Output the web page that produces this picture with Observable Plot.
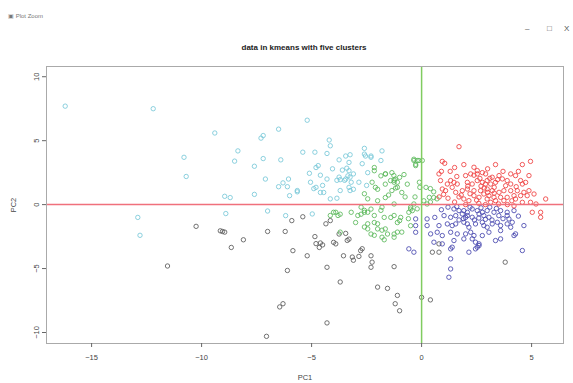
<!DOCTYPE html>
<html><head><meta charset="utf-8">
<script src="https://cdn.jsdelivr.net/npm/d3@7"></script>
<script src="https://cdn.jsdelivr.net/npm/@observablehq/plot@0.6"></script>
<style>
body{margin:0;background:#fff;font-family:"Liberation Sans",Arial,sans-serif;}
#top{position:relative;height:58px;width:573px;}
#win{position:absolute;left:8px;top:12px;font-size:6px;color:#777;}
.ctl{position:absolute;top:24px;font-size:8px;color:#555;}
#title{position:absolute;left:0;width:608px;text-align:center;top:43px;font-size:8px;font-weight:bold;color:#222;}
</style></head><body>
<div id="top">
  <div id="win">▣ Plot Zoom</div>
  <span class="ctl" style="left:525px">–</span>
  <span class="ctl" style="left:547px">□</span>
  <span class="ctl" style="left:564px">X</span>
  <div id="title">data in kmeans with five clusters</div>
</div>
<div id="chart"></div>
<script>
const xTicks = [-15, -10, -5, 0, 5];
const yTicks = [-10, -5, 0, 5, 10];
const xLabel = "PC1";
const yLabel = "PC2";

// cluster 5 (cyan)
const cyanPts = [[-16.2,7.7],[-12.2,7.5],[-9.4,5.6],[-10.8,3.7],[-10.7,2.2],[-12.9,-1.0],[-12.8,-2.4],[-7.3,5.2],[-7.2,5.4],[-6.5,5.9],[-8.35,4.2],[-8.5,3.4],[-7.6,3.0],[-7.2,3.6],[-6.4,3.5],[-7.1,2.0],[-6.5,1.4],[-6.3,1.7],[-6.1,1.4],[-6.05,2.0],[-6.0,0.7],[-5.65,1.0],[-8.95,0.65],[-8.7,0.55],[-7.6,0.8],[-8.9,-0.7],[-7.0,-0.5],[-4.2,5.05],[-4.15,4.6],[-5.4,4.1],[-4.85,4.1],[-4.3,4.0],[-3.45,3.8],[-3.25,3.9],[-2.6,3.95],[-2.55,3.8],[-3.75,3.5],[-3.3,3.3],[-4.8,2.9],[-4.7,3.05],[-4.05,2.8],[-3.6,2.7],[-3.4,2.85],[-2.45,2.5],[-5.1,2.45],[-4.6,2.3],[-4.3,2.0],[-3.85,1.9],[-3.7,1.95],[-3.5,1.9],[-3.35,2.25],[-3.25,2.15],[-5.05,1.75],[-4.9,1.25],[-4.8,1.35],[-4.5,1.5],[-4.45,0.95],[-4.6,0.95],[-3.7,1.1],[-3.3,1.35],[-3.25,1.1],[-3.1,1.2],[-2.85,1.75],[-2.5,1.5],[-5.65,1.1],[-4.15,0.45],[-3.85,0.5],[-2.6,4.4],[-1.8,4.2],[-2.3,3.7],[-1.85,3.45],[-5.2,6.6],[-4.97,-0.73],[-6.18,-0.86],[-3.3,2.65],[-3.2,1.75],[-3.45,2.0],[-3.1,2.4],[-3.75,2.15],[-2.3,3.8],[-2.7,3.2]];

// cluster 3 (green)
const greenPts = [[-2.25,1.75],[-2.15,2.65],[-2.6,0.85],[-1.85,2.25],[-1.65,2.4],[-1.2,2.0],[-1.25,1.75],[-1.1,1.75],[-0.8,2.35],[-0.65,1.6],[-1.35,1.1],[-0.35,3.45],[-0.2,3.45],[-0.27,3.05],[-0.1,1.75],[-0.08,1.35],[-2.1,1.35],[-2.0,1.2],[-0.5,-0.35],[-0.42,-0.47],[-0.58,-0.6],[0.1,0.3],[0.25,0.05],[0.4,0.2],[0.55,0.55],[0.7,0.45],[-2.6,-0.45],[-2.75,-0.75],[-2.45,-0.6],[-3.2,-0.6],[-1.85,-0.45],[-1.4,-1.0],[-2.15,-1.4],[-2.0,-1.5],[-1.1,-1.4],[-0.95,-1.0],[-1.8,-2.0],[-1.65,-1.9],[-2.6,-1.75],[-2.45,-1.9],[-3.0,-1.4],[-2.15,-2.4],[-1.7,-2.75],[-1.25,-2.3],[-0.9,-2.15],[-0.5,-1.65],[-3.7,-2.15],[-3.8,-0.85],[-0.35,3.55],[-0.27,3.15],[-0.12,3.45],[0.03,3.45],[-1.26,2.27],[-1.41,1.88],[-1.18,1.3],[-1.64,2.4],[-1.0,2.13],[0.2,1.35],[0.4,1.25],[0.55,1.0],[0.35,0.57],[-0.35,0.05],[-0.5,-0.2],[-0.2,-0.33],[-2.15,2.9],[-1.35,2.5],[-1.25,1.9],[-1.65,1.6],[-1.1,1.35],[-2.45,0.45],[-2.0,0.3],[-1.65,0.55],[-2.75,-0.2],[-2.3,-0.35],[-1.8,-0.2],[-1.25,0.05],[-4.0,-0.6],[-3.7,-0.75],[-2.9,-0.85],[-4.15,-0.85],[-3.9,-0.6],[-2.6,-0.6],[-2.15,-0.85],[-1.7,-1.0],[-1.25,-0.85],[-1.0,-1.25],[-2.45,-1.5],[-2.0,-1.9],[-1.55,-2.3],[-1.1,-2.15],[-2.3,-2.3],[-1.8,-2.55],[-1.25,-2.55],[-0.75,0.6],[-0.9,0.95],[-0.3,0.6],[-1.5,0.75],[-0.6,-1.1]];

// cluster 1 (black)
const blackPts = [[-11.55,-4.8],[-10.25,-1.7],[-9.15,-2.05],[-9.05,-2.1],[-8.95,-2.15],[-8.65,-3.35],[-8.1,-2.75],[-7.0,-2.1],[-6.2,-2.1],[-5.9,-1.25],[-5.4,-0.95],[-5.85,-3.6],[-6.1,-5.15],[-5.2,-4.0],[-4.85,-2.5],[-4.8,-3.05],[-4.65,-3.35],[-4.5,-3.15],[-4.6,-3.0],[-4.35,-1.5],[-4.15,-1.25],[-4.3,-4.9],[-4.0,-2.95],[-6.45,-8.0],[-6.3,-7.75],[-4.3,-9.25],[-7.05,-10.3],[-3.7,-6.05],[-3.75,-2.3],[-3.45,-2.25],[-3.3,-2.7],[-3.55,-4.0],[-3.15,-4.1],[-2.85,-4.05],[-3.1,-4.35],[-2.7,-3.45],[-2.3,-4.0],[-2.25,-4.5],[-2.3,-4.9],[-2.0,-6.45],[-1.55,-6.55],[-1.25,-4.85],[-1.1,-7.1],[-1.2,-7.75],[-1.0,-8.3],[0.0,-7.25],[0.4,-7.45],[3.8,-4.5],[-3.9,-3.07],[-3.38,-2.8],[-2.77,-3.6],[0.49,-3.72],[0.79,-3.72],[0.79,-3.07]];

// cluster 4 (blue)
const bluePts = [[1.47,-0.34],[1.7,-0.47],[1.92,-0.47],[2.08,-0.6],[2.3,-0.34],[2.53,-0.47],[2.76,-0.6],[2.98,-0.47],[3.29,-0.6],[3.59,-0.47],[3.89,-0.6],[4.2,-0.47],[1.02,-0.86],[1.32,-0.99],[1.55,-0.86],[1.85,-0.73],[2.08,-0.86],[2.3,-0.99],[2.61,-0.73],[2.83,-0.86],[3.06,-0.99],[3.51,-0.86],[3.89,-0.86],[3.97,-1.12],[0.79,-1.64],[1.17,-1.51],[1.39,-1.64],[1.55,-1.51],[1.92,-1.38],[2.08,-1.51],[2.15,-1.77],[2.45,-1.51],[2.76,-1.38],[2.83,-1.64],[3.21,-1.51],[3.44,-1.38],[3.59,-1.64],[3.89,-1.51],[4.12,-1.38],[0.41,-2.29],[0.71,-2.16],[0.94,-2.42],[1.32,-2.16],[1.62,-2.29],[2.0,-2.29],[2.23,-2.16],[2.38,-2.42],[2.98,-1.77],[3.06,-2.16],[3.59,-2.03],[4.05,-1.77],[4.65,-1.64],[0.56,-2.94],[0.94,-3.07],[1.47,-2.81],[1.92,-2.68],[2.3,-2.68],[2.45,-2.94],[2.61,-3.2],[2.76,-2.42],[3.36,-2.81],[3.59,-2.68],[4.2,-2.42],[4.27,-2.29],[1.32,-3.46],[1.39,-3.33],[2.15,-3.72],[2.45,-3.46],[2.53,-3.33],[2.61,-3.07],[1.32,-4.24],[1.32,-5.03],[1.24,-5.68],[4.58,-3.59],[-0.27,-1.12],[-0.27,-1.64],[-0.27,-2.16],[0.25,-1.12],[0.25,-1.64],[-0.35,-3.72],[-0.58,-3.46],[1.2,-0.2],[1.6,-0.15],[2.2,-0.2],[2.7,-0.25],[3.1,-0.2],[3.4,-0.3],[1.9,-1.1],[2.4,-1.2],[2.6,-1.05],[3.2,-1.2],[1.7,-1.2],[2.0,-1.0],[2.9,-1.15],[0.9,-0.4],[0.6,-1.0],[3.7,-1.1],[4.4,-0.9]];

// cluster 2 (red)
const redPts = [[1.7,4.53],[0.94,3.38],[1.05,3.23],[1.92,3.13],[3.36,3.13],[4.58,3.13],[4.95,3.38],[2.38,2.92],[2.53,2.66],[4.05,2.4],[4.27,2.27],[4.88,2.27],[0.79,2.4],[0.86,1.88],[2.0,2.27],[2.23,2.4],[2.38,2.3],[2.53,2.4],[2.76,2.5],[2.91,2.4],[3.21,2.14],[3.52,2.27],[3.67,2.01],[4.5,1.88],[4.73,1.74],[4.58,1.61],[1.32,1.88],[1.47,1.74],[1.62,1.61],[1.17,1.61],[2.08,1.74],[2.3,1.61],[2.53,1.88],[2.76,1.74],[2.98,1.88],[3.14,1.61],[3.36,1.74],[3.89,1.88],[4.05,1.61],[3.82,1.48],[0.94,1.22],[1.09,1.09],[1.39,1.35],[1.55,0.96],[1.85,1.09],[2.08,1.22],[2.38,1.09],[2.68,1.09],[2.98,1.22],[3.21,1.09],[3.52,0.96],[3.74,1.09],[4.05,1.09],[4.35,1.09],[4.65,0.96],[4.88,1.09],[5.11,0.83],[2.38,0.7],[2.61,0.57],[2.83,0.83],[3.06,0.7],[3.29,0.57],[3.59,0.57],[3.89,0.57],[4.2,0.7],[4.5,0.7],[4.8,0.7],[1.92,0.44],[2.15,0.31],[2.98,0.44],[3.14,0.18],[3.36,0.31],[3.74,0.31],[4.27,0.44],[4.58,0.18],[5.64,0.44],[4.95,0.18],[1.2,0.5],[1.0,0.8],[0.8,0.6],[1.5,0.2],[1.7,0.6],[2.0,0.0],[2.6,0.1],[2.9,0.0],[3.5,0.05],[3.9,0.0],[4.2,-0.1],[5.03,-0.6],[5.41,-0.6],[5.41,-0.99],[5.2,0.05],[1.3,2.6],[1.6,2.2],[3.0,2.8],[4.4,2.6],[3.7,2.6],[0.9,2.6],[1.5,2.9],[2.1,1.45],[2.7,1.45],[3.3,1.35],[3.0,0.95],[2.2,0.85],[1.8,0.75],[2.9,1.6],[3.1,2.05],[2.65,2.05],[3.45,1.95],[4.3,1.4],[4.1,0.3],[3.3,0.9],[2.5,0.35],[2.85,1.3]];

const clusters = [
  {pts: blackPts, color: "#5a5a5a"},
  {pts: cyanPts, color: "#78c8d8"},
  {pts: greenPts, color: "#5cb85c"},
  {pts: bluePts, color: "#4646ae"},
  {pts: redPts, color: "#ee4040"}
];

const dotMarks = clusters.map(c => Plot.dot(c.pts, {
  x: d => d[0], y: d => d[1], r: 2.2, stroke: c.color, strokeWidth: 1, fill: "none", strokeOpacity: 0.85
}));

const chart = Plot.plot({
  width: 573,
  height: 325,
  marginLeft: 46,
  marginRight: 10,
  marginTop: 8,
  marginBottom: 40,
  style: {fontFamily: "Liberation Sans, Arial, sans-serif", fontSize: "7.5px", color: "#444", background: "#fff"},
  x: {domain: [-17.05, 6.45]},
  y: {domain: [-10.86, 10.8]},
  marks: [
    ...dotMarks,
    Plot.ruleY([0], {stroke: "#f0707c", strokeWidth: 1.5}),
    Plot.ruleX([0], {stroke: "#80cc60", strokeWidth: 1.5}),
    Plot.frame({stroke: "#aaa"}),
    Plot.axisX({ticks: xTicks, tickSize: 4, tickPadding: 7, stroke: "#666", label: xLabel, labelAnchor: "center", labelArrow: "none", labelOffset: 36}),
    Plot.axisY({ticks: yTicks, tickSize: 4, tickPadding: 4, tickRotate: -90, stroke: "#666", label: yLabel, labelAnchor: "center", labelArrow: "none", labelOffset: 36})
  ]
});
document.getElementById("chart").appendChild(chart);
</script>
</body></html>
